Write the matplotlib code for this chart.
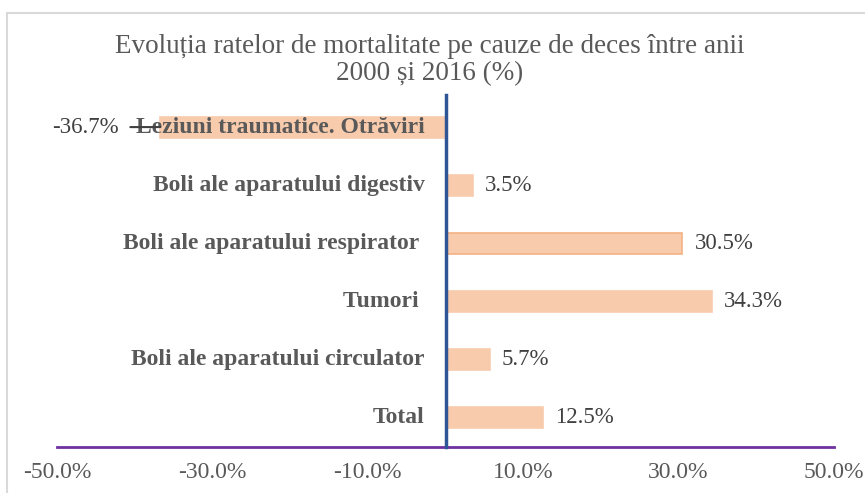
import numpy as np
import matplotlib
matplotlib.use('Agg')
import matplotlib.pyplot as plt
from matplotlib.patches import Rectangle

plt.rcParams['font.family'] = ['Liberation Serif', 'DejaVu Serif']

# data (bottom to top)
categories = ['Total', 'Boli ale aparatului circulator', 'Tumori ',
              'Boli ale aparatului respirator ', 'Boli ale aparatului digestiv',
              'Leziuni traumatice. Otrăviri']
values = [12.5, 5.7, 34.3, 30.5, 3.5, -36.7]
xticks = [-50, -30, -10, 10, 30, 50]
title = 'Evoluția ratelor de mortalitate pe cauze de deces între anii\n2000 și 2016 (%)'

fig = plt.figure(figsize=(8.65, 4.93), dpi=100)
ax = fig.add_axes([57 / 865, 1 - 447 / 493, (834 - 57) / 865, (447 - 98) / 493])

ypos = np.arange(len(categories))
edges = ['#F8CBAD'] * len(values)
edges[3] = '#F4B183'
ax.barh(ypos, values, height=0.36, color='#F8CBAD', edgecolor=edges, linewidth=1.2, zorder=2)

ax.set_xlim(-50, 50)
ax.set_ylim(-0.5, 5.5)
ax.axvline(0, ymin=0, ymax=1.01, color='#2F5597', lw=2.5, zorder=4, clip_on=False)

for y, v, c in zip(ypos, values, categories):
    ax.annotate(c, xy=(0, y), xytext=(-21, 0), textcoords='offset pixels',
                ha='right', va='center', fontsize=17, fontweight='bold',
                color='#595959', zorder=5)
    if v >= 0:
        ax.annotate(f'{v:.1f}%', xy=(v, y), xytext=(12, 0), textcoords='offset pixels',
                    ha='left', va='center', fontsize=16.5, color='#404040')
    else:
        ax.annotate(f'{v:.1f}%', xy=(v, y), xytext=(-42, 0), textcoords='offset pixels',
                    ha='right', va='center', fontsize=16.5, color='#404040')
        # short dark stroke left of the bar end
        ax.annotate('', xy=(v, y), xytext=(-30, 0), textcoords='offset pixels',
                    arrowprops=dict(arrowstyle='-', color='#404040', lw=1.5,
                                    shrinkA=0, shrinkB=0), zorder=6)

for s in ['top', 'left', 'right']:
    ax.spines[s].set_visible(False)
ax.spines['bottom'].set_color('#7030A0')
ax.spines['bottom'].set_linewidth(2)
ax.set_yticks([])
ax.set_xticks(xticks)
ax.set_xticklabels([f'{t:.1f}%' for t in xticks], fontsize=17, color='#595959')
ax.tick_params(axis='x', length=0, pad=11)

fig.text(430 / 865, 1 - 60 / 493, title, ha='center', va='center', fontsize=19.5,
         color='#595959', linespacing=1.1)

fig.patches.append(Rectangle((7 / 865, -0.1), 1.2, 1.1 - 13 / 493, transform=fig.transFigure,
                             fill=False, edgecolor='#D9D9D9', lw=1.5))

fig.savefig('out.png', dpi=100)
